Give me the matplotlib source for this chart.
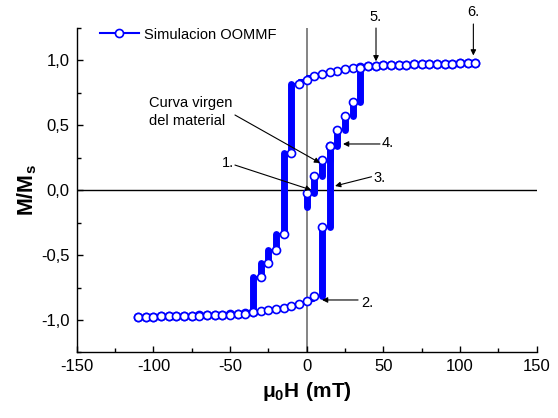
import matplotlib
matplotlib.use("Agg")
import matplotlib.pyplot as plt
from matplotlib.ticker import MultipleLocator, FuncFormatter

plt.rcParams['font.family'] = ['Liberation Sans', 'DejaVu Sans']
plt.rcParams['axes.unicode_minus'] = False
plt.rcParams['mathtext.fontset'] = 'custom'
plt.rcParams['mathtext.rm'] = 'Liberation Sans'
plt.rcParams['mathtext.bf'] = 'Liberation Sans:bold'

# descending branch, field from +110 to -110 mT
desc_H = [110, 105, 100, 95, 90, 85, 80, 75, 70, 65, 60, 55, 50, 45, 40, 35, 30, 25, 20, 15,
          10, 5, 0, -5, -10, -15, -20, -25, -30, -35, -40, -45, -50, -55, -60, -65, -70, -75,
          -80, -85, -90, -95, -100, -105, -110]
desc_M = [0.976, 0.975, 0.974, 0.973, 0.972, 0.970, 0.969, 0.967, 0.966, 0.964, 0.962, 0.960,
          0.958, 0.955, 0.951, 0.945, 0.937, 0.928, 0.917, 0.905, 0.892, 0.877, 0.850, 0.813,
          0.285, -0.340, -0.458, -0.558, -0.672, -0.941, -0.947, -0.952, -0.955, -0.958, -0.960,
          -0.962, -0.964, -0.966, -0.968, -0.970, -0.972, -0.973, -0.974, -0.975, -0.976]

# ascending branch, field from -110 to +110 mT
asc_H = [-110, -105, -100, -95, -90, -85, -80, -75, -70, -65, -60, -55, -50, -45, -40, -35, -30,
         -25, -20, -15, -10, -5, 0, 5, 10, 15, 20, 25, 30, 35, 40, 45, 50, 55, 60, 65, 70, 75,
         80, 85, 90, 95, 100, 105, 110]
asc_M = [-0.976, -0.975, -0.974, -0.973, -0.972, -0.970, -0.969, -0.967, -0.966, -0.964, -0.962,
         -0.960, -0.958, -0.955, -0.951, -0.941, -0.932, -0.923, -0.914, -0.906, -0.896, -0.879,
         -0.852, -0.813, -0.287, 0.338, 0.460, 0.570, 0.674, 0.936, 0.951, 0.955, 0.958, 0.960,
         0.962, 0.964, 0.966, 0.967, 0.969, 0.970, 0.972, 0.973, 0.974, 0.975, 0.976]

# virgin curve
virgin_start = -0.13
virgin_H = [0, 5, 10, 15]
virgin_M = [-0.02, 0.11, 0.231, 0.338]

blue = '#0000ff'

fig = plt.figure(figsize=(5.58, 4.18), dpi=100)
ax = fig.add_axes([0.1375, 0.1567, 0.8243, 0.7775])

ax.axhline(0, color='black', lw=1.0, zorder=1)
ax.axvline(0, color='#707070', lw=1.2, zorder=1)

# thick vertical bars where the magnetisation jumps at one field value
bar_kw = dict(color=blue, lw=5.0, solid_capstyle='round', zorder=2)
for H, M in [(desc_H, desc_M), (asc_H, asc_M)]:
    for i in range(1, len(H)):
        if abs(M[i] - M[i - 1]) > 0.05:
            ax.plot([H[i], H[i]], [M[i - 1], M[i]], **bar_kw)
prev = virgin_start
for h, m in zip(virgin_H, virgin_M):
    ax.plot([h, h], [prev, m], **bar_kw)
    prev = m

mk = dict(color=blue, lw=1.5, marker='o', ms=5.8, mfc='white', mec=blue, mew=1.2,
          drawstyle='steps-post', zorder=3)
ax.plot(desc_H, desc_M, label='Simulacion OOMMF', **mk)
ax.plot(asc_H, asc_M, **mk)
ax.plot(virgin_H, virgin_M, **mk)

ax.set_xlim(-150, 150)
ax.set_ylim(-1.25, 1.25)
ax.spines['top'].set_visible(False)
ax.spines['right'].set_visible(False)
for s in ['left', 'bottom']:
    ax.spines[s].set_linewidth(1.0)

ax.xaxis.set_major_locator(MultipleLocator(50))
ax.xaxis.set_minor_locator(MultipleLocator(25))
ax.yaxis.set_major_locator(MultipleLocator(0.5))
ax.yaxis.set_minor_locator(MultipleLocator(0.25))
ax.yaxis.set_major_formatter(FuncFormatter(lambda v, p: f"{v:.1f}".replace('.', ',').replace('-0,0', '0,0')))
ax.tick_params(which='both', direction='in', labelsize=12, pad=5)
ax.tick_params(which='major', length=4.5, width=1)
ax.tick_params(which='minor', length=3, width=1)

ax.set_xlabel(r'$\mathbf{μ_0H\ (mT)}$', fontsize=15, labelpad=4)
ax.set_ylabel(r'$\mathbf{M/M_s}$', fontsize=15.5, labelpad=2)

ax.legend(loc='upper left', bbox_to_anchor=(0.05, 1.0), frameon=False, fontsize=10.5,
          borderpad=0, borderaxespad=0, handlelength=2.7, handletextpad=0.35, numpoints=1)

# annotations: label, text position, arrow tail, arrow head
arrows = [
    ('Curva virgen\ndel material', (-48.5, 0.60), (-46.8, 0.577), (8.7, 0.208), 'right'),
    ('1.', (-51.3, 0.208), (-46.8, 0.192), (3.0, 0.0), 'center'),
    ('3.', (47.2, 0.092), (42.3, 0.102), (18.5, 0.031), 'center'),
    ('4.', (53.0, 0.36), (47.8, 0.354), (23.7, 0.354), 'center'),
    ('2.', (39.3, -0.869), (33.5, -0.846), (10.0, -0.846), 'center'),
    ('5.', (45.2, 1.33), (45.2, 1.246), (45.2, 0.99), 'center'),
    ('6.', (108.7, 1.37), (108.7, 1.277), (108.7, 1.035), 'center'),
]
for label, tpos, tail, head, ha in arrows:
    ax.annotate('', xy=head, xytext=tail, annotation_clip=False,
                arrowprops=dict(arrowstyle='-|>', color='black', lw=0.8,
                                mutation_scale=8, shrinkA=0, shrinkB=0))
    ax.text(tpos[0], tpos[1], label, ha=ha, va='center', fontsize=10.5,
            multialignment='left', linespacing=1.3)

fig.savefig('out.png', dpi=100)
